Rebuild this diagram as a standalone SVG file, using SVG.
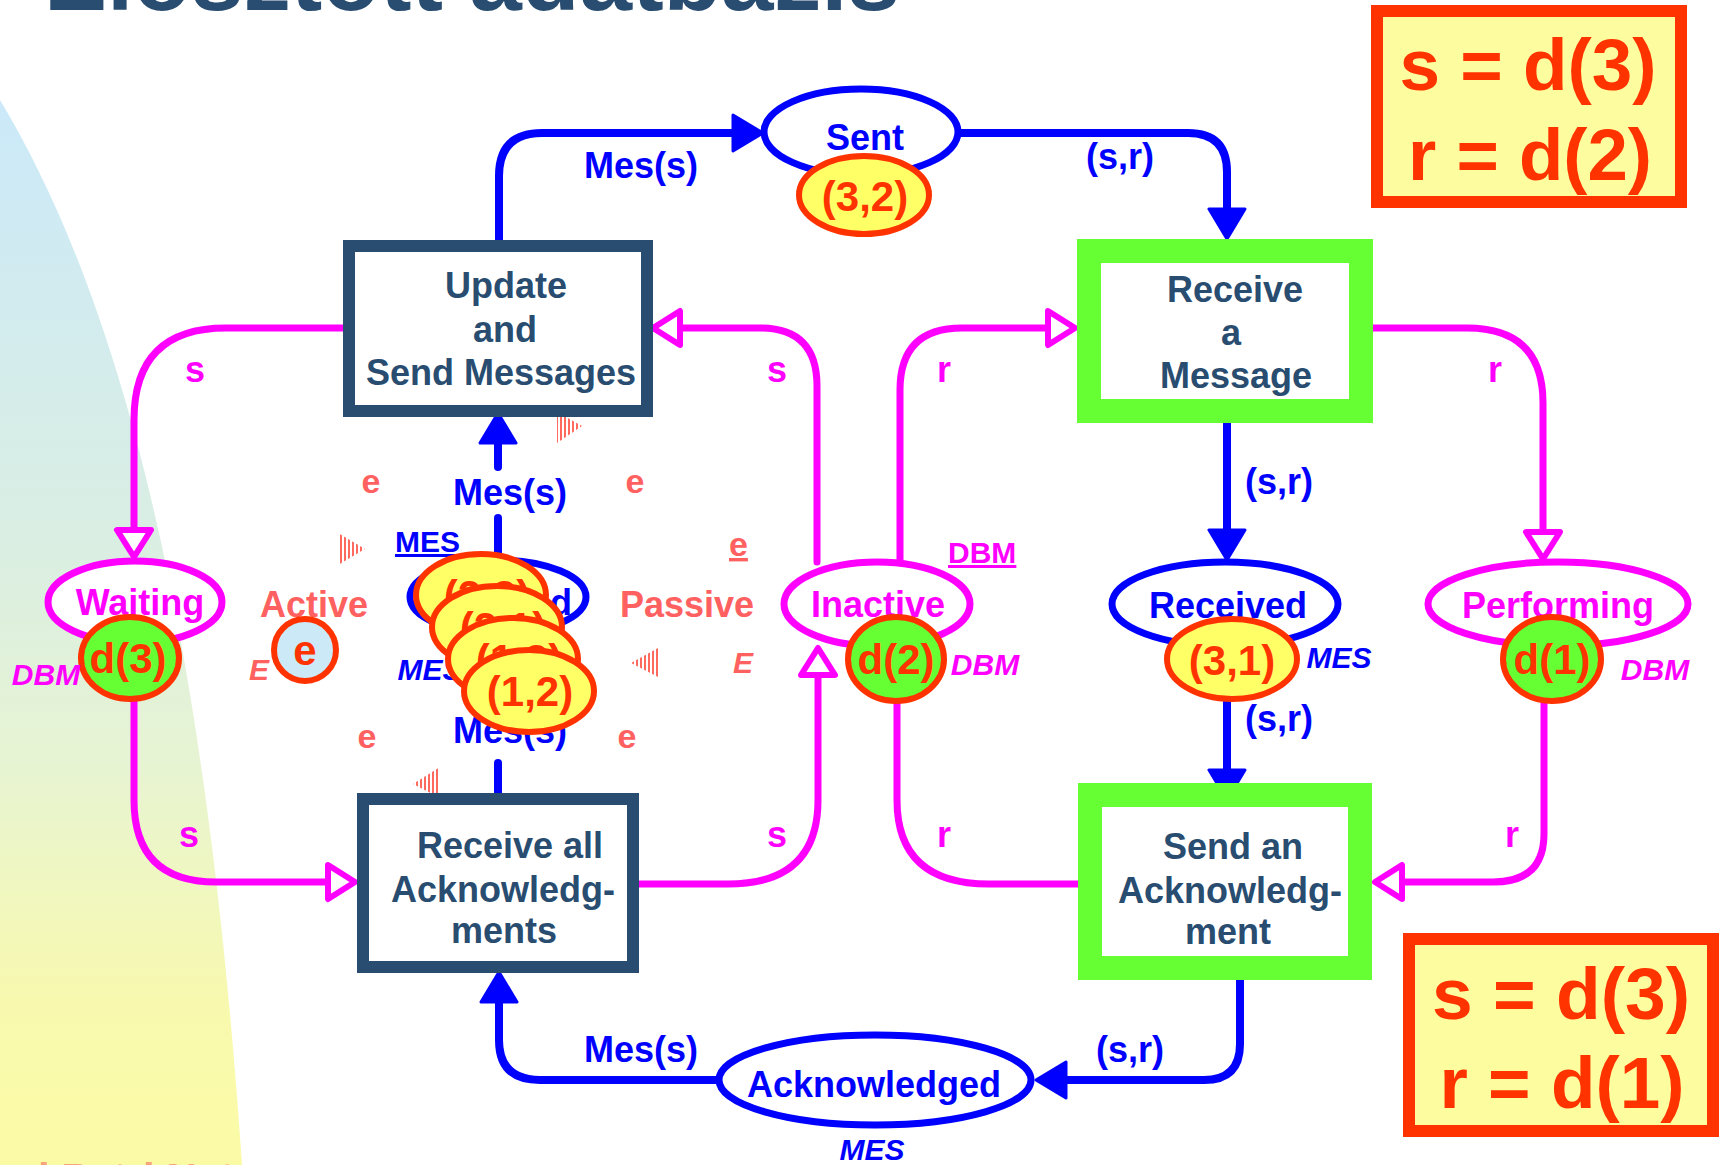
<svg xmlns="http://www.w3.org/2000/svg" width="1721" height="1165" viewBox="0 0 1721 1165">
  <defs>
    <linearGradient id="bgGrad" gradientUnits="userSpaceOnUse" x1="0" y1="100" x2="0" y2="1165">
      <stop offset="0" stop-color="#cbe9f9"/>
      <stop offset="0.42" stop-color="#daeee2"/>
      <stop offset="0.62" stop-color="#e7f4d3"/>
      <stop offset="0.85" stop-color="#f8f9ae"/>
      <stop offset="1" stop-color="#fbfba6"/>
    </linearGradient>
    <pattern id="hatch" patternUnits="userSpaceOnUse" width="4" height="4">
      <rect x="0" y="0" width="2" height="4" fill="#ff6a5e"/>
    </pattern>
    <!-- filled blue arrowhead; the path ends at the arrow base -->
    <marker id="arrowBlue" markerUnits="userSpaceOnUse" viewBox="0 0 34 40" markerWidth="34" markerHeight="40" refX="2" refY="20" orient="auto">
      <path d="M2,2 L32,20 L2,38 Z" fill="#0000ff" stroke="#0000ff" stroke-width="3" stroke-linejoin="round"/>
    </marker>
    <!-- hollow magenta arrowhead -->
    <marker id="arrowMag" markerUnits="userSpaceOnUse" viewBox="0 0 36 42" markerWidth="36" markerHeight="42" refX="4" refY="21" orient="auto">
      <path d="M4,4 L31,21 L4,38 Z" fill="#ffffff" stroke="#ff00ff" stroke-width="6" stroke-linejoin="round"/>
    </marker>
    <style>
      .t { font-family: "Liberation Sans", Arial, sans-serif; font-weight: bold; text-anchor: middle; }
      .it { font-style: italic; }
      .blue { fill: #0000ff; }
      .mag { fill: #ff00ff; }
      .sal { fill: #ff6060; }
      .dk { fill: #294d70; }
      .red { fill: #ff3300; }
      .lblue { fill: none; stroke: #0000ff; stroke-width: 8; stroke-linecap: round; stroke-linejoin: round; }
      .lmag { fill: none; stroke: #ff00ff; stroke-width: 7; stroke-linecap: round; stroke-linejoin: round; }
      .trans { fill: #ffffff; stroke: #294d70; stroke-width: 12; }
      .transG { fill: #ffffff; stroke: #66ff33; stroke-width: 24; }
      .pBlue { fill: #ffffff; stroke: #0000ff; stroke-width: 7; }
      .pMag { fill: #ffffff; stroke: #ff00ff; stroke-width: 7; }
      .tokY { fill: #ffff66; stroke: #ff3300; stroke-width: 6; }
      .tokG { fill: #66ff33; stroke: #ff3300; stroke-width: 6; }
      .hatch { fill: url(#hatch); }
      .eqbox { fill: #fdfd9f; stroke: #ff3300; stroke-width: 12; }
    </style>
  </defs>

  <rect x="0" y="0" width="1721" height="1165" fill="#ffffff"/>
  <!-- left backdrop swoosh -->
  <path d="M0,100 C120,300 205,620 242,1165 L0,1165 Z" fill="url(#bgGrad)"/>

  <!-- slide title and footer, cut by the frame -->
  <text x="472" y="10" class="t dk" font-size="94" textLength="856" lengthAdjust="spacingAndGlyphs">Elosztott adatbázis</text>
  <text x="38" y="1193" font-family="Liberation Sans, Arial, sans-serif" font-weight="bold" font-size="42" fill="#f7a47c">l Petri Net</text>

  <!-- connectors -->
  <g id="connectors">
    <!-- blue message arcs -->
    <path class="lblue" d="M499,240 V176 Q499,133 542,133 H733" marker-end="url(#arrowBlue)"/>
    <path class="lblue" d="M959,133 H1188 Q1227,133 1227,172 V209" marker-end="url(#arrowBlue)"/>
    <path class="lblue" d="M1227,423 V530" marker-end="url(#arrowBlue)"/>
    <path class="lblue" d="M1227,700 V770" marker-end="url(#arrowBlue)"/>
    <path class="lblue" d="M1240,980 V1044 Q1240,1080 1204,1080 H1066" marker-end="url(#arrowBlue)"/>
    <path class="lblue" d="M718,1080 H540 Q499,1080 499,1040 V1002" marker-end="url(#arrowBlue)"/>
    <path class="lblue" d="M498,560 V518"/>
    <path class="lblue" d="M498,467 V443" marker-end="url(#arrowBlue)"/>
    <path class="lblue" d="M498,800 V763"/>

    <!-- magenta database-manager arcs -->
    <path class="lmag" d="M343,328 H226 Q134,328 134,420 V530" marker-end="url(#arrowMag)"/>
    <path class="lmag" d="M134,700 V800 Q134,882 216,882 H328" marker-end="url(#arrowMag)"/>
    <path class="lmag" d="M817,562 V386 Q817,328 760,328 H680" marker-end="url(#arrowMag)"/>
    <path class="lmag" d="M639,884 H728 Q818,884 818,800 V675" marker-end="url(#arrowMag)"/>
    <path class="lmag" d="M900,560 V390 Q900,328 962,328 H1048" marker-end="url(#arrowMag)"/>
    <path class="lmag" d="M1078,884 H989 Q897,884 897,800 V702"/>
    <path class="lmag" d="M1373,328 H1467 Q1543,328 1543,403 V532" marker-end="url(#arrowMag)"/>
    <path class="lmag" d="M1544,702 V834 Q1544,882 1493,882 H1402" marker-end="url(#arrowMag)"/>

    <!-- arc inscriptions -->
    <text x="641" y="178" class="t blue" font-size="36">Mes(s)</text>
    <text x="1120" y="169" class="t blue" font-size="36">(s,r)</text>
    <text x="1279" y="494" class="t blue" font-size="36">(s,r)</text>
    <text x="1279" y="731" class="t blue" font-size="36">(s,r)</text>
    <text x="641" y="1062" class="t blue" font-size="36">Mes(s)</text>
    <text x="1130" y="1062" class="t blue" font-size="36">(s,r)</text>
    <text x="510" y="505" class="t blue" font-size="36">Mes(s)</text>
    <text x="510" y="743" class="t blue" font-size="36">Mes(s)</text>

    <text x="195" y="382" class="t mag" font-size="36">s</text>
    <text x="189" y="847" class="t mag" font-size="36">s</text>
    <text x="777" y="382" class="t mag" font-size="36">s</text>
    <text x="777" y="847" class="t mag" font-size="36">s</text>
    <text x="944" y="382" class="t mag" font-size="36">r</text>
    <text x="944" y="847" class="t mag" font-size="36">r</text>
    <text x="1495" y="382" class="t mag" font-size="36">r</text>
    <text x="1512" y="847" class="t mag" font-size="36">r</text>

    <!-- mutual exclusion arcs (e) -->
    <text x="371" y="493" class="t sal" font-size="34">e</text>
    <text x="635" y="493" class="t sal" font-size="34">e</text>
    <text x="367" y="748" class="t sal" font-size="34">e</text>
    <text x="627" y="748" class="t sal" font-size="34">e</text>
    <polygon class="hatch" points="557,412 582,426 557,443"/>
    <polygon class="hatch" points="338,533 365,549 338,565"/>
    <polygon class="hatch" points="658,648 631,663 658,677"/>
    <polygon class="hatch" points="440,767 413,784 440,798"/>
  </g>

  <!-- transitions -->
  <g id="update-send">
    <rect class="trans" x="349" y="246" width="298" height="165"/>
    <text class="t dk" font-size="36" x="506" y="298">Update</text>
    <text class="t dk" font-size="36" x="505" y="342">and</text>
    <text class="t dk" font-size="36" x="501" y="385">Send Messages</text>
  </g>
  <g id="receive-all">
    <rect class="trans" x="363" y="799" width="270" height="168"/>
    <text class="t dk" font-size="36" x="510" y="858">Receive all</text>
    <text class="t dk" font-size="36" x="503" y="902">Acknowledg-</text>
    <text class="t dk" font-size="36" x="504" y="943">ments</text>
  </g>
  <g id="receive-message">
    <rect class="transG" x="1089" y="251" width="272" height="160"/>
    <text class="t dk" font-size="36" x="1235" y="302">Receive</text>
    <text class="t dk" font-size="36" x="1231" y="345">a</text>
    <text class="t dk" font-size="36" x="1236" y="388">Message</text>
  </g>
  <g id="send-ack">
    <rect class="transG" x="1090" y="795" width="270" height="173"/>
    <text class="t dk" font-size="36" x="1233" y="859">Send an</text>
    <text class="t dk" font-size="36" x="1230" y="903">Acknowledg-</text>
    <text class="t dk" font-size="36" x="1228" y="944">ment</text>
  </g>

  <!-- places -->
  <g id="sent">
    <ellipse class="pBlue" cx="861" cy="132" rx="97" ry="43"/>
    <text class="t blue" font-size="36" x="865" y="150">Sent</text>
    <ellipse class="tokY" cx="864" cy="195" rx="65" ry="39"/>
    <text class="t red" font-size="42" x="865" y="211">(3,2)</text>
  </g>
  <g id="waiting">
    <ellipse class="pMag" cx="135" cy="602" rx="87" ry="41"/>
    <text class="t mag" font-size="36" x="140" y="615">Waiting</text>
    <ellipse class="tokG" cx="130" cy="658" rx="49" ry="41"/>
    <text class="t red" font-size="42" x="128" y="673">d(3)</text>
    <text class="t it mag" font-size="30" x="46" y="685">DBM</text>
  </g>
  <g id="active">
    <text class="t sal" font-size="36" x="314" y="617">Active</text>
    <circle cx="305" cy="650" r="31" fill="#cce9f8" stroke="#ff3300" stroke-width="6"/>
    <text class="t red" font-size="42" x="305" y="665">e</text>
    <text class="t it sal" font-size="30" x="259" y="680">E</text>
  </g>
  <g id="unused">
    <ellipse class="pBlue" cx="498" cy="597" rx="88" ry="37"/>
    <text class="t blue" font-size="36" x="506" y="615">Unused</text>
    <text x="395" y="552" font-family="Liberation Sans, Arial, sans-serif" font-weight="bold" font-size="30" fill="#0000ff" text-decoration="underline">MES</text>
    <text class="t it blue" font-size="30" x="430" y="680">MES</text>
    <ellipse class="tokY" cx="481" cy="595" rx="65" ry="41"/>
    <text class="t red" font-size="42" x="487" y="610">(2,3)</text>
    <ellipse class="tokY" cx="497" cy="627" rx="65" ry="41"/>
    <text class="t red" font-size="42" x="503" y="642">(2,1)</text>
    <ellipse class="tokY" cx="513" cy="659" rx="65" ry="41"/>
    <text class="t red" font-size="42" x="519" y="674">(1,3)</text>
    <ellipse class="tokY" cx="529" cy="691" rx="65" ry="41"/>
    <text class="t red" font-size="42" x="530" y="706">(1,2)</text>
  </g>
  <g id="passive">
    <text class="t sal" font-size="36" x="687" y="617">Passive</text>
    <text x="729" y="556" font-family="Liberation Sans, Arial, sans-serif" font-weight="bold" font-size="34" fill="#ff6060" text-decoration="underline">e</text>
    <text class="t it sal" font-size="30" x="743" y="673">E</text>
  </g>
  <g id="inactive">
    <ellipse class="pMag" cx="877" cy="604" rx="93" ry="42"/>
    <text class="t mag" font-size="36" x="878" y="617">Inactive</text>
    <text x="948" y="563" font-family="Liberation Sans, Arial, sans-serif" font-weight="bold" font-size="30" fill="#ff00ff" text-decoration="underline">DBM</text>
    <ellipse class="tokG" cx="896" cy="659" rx="48" ry="42"/>
    <text class="t red" font-size="42" x="896" y="674">d(2)</text>
    <text class="t it mag" font-size="30" x="985" y="675">DBM</text>
  </g>
  <g id="received">
    <ellipse class="pBlue" cx="1225" cy="604" rx="113" ry="42"/>
    <text class="t blue" font-size="36" x="1228" y="618">Received</text>
    <ellipse class="tokY" cx="1232" cy="659" rx="65" ry="40"/>
    <text class="t red" font-size="42" x="1232" y="675">(3,1)</text>
    <text class="t it blue" font-size="30" x="1339" y="668">MES</text>
  </g>
  <g id="performing">
    <ellipse class="pMag" cx="1558" cy="604" rx="130" ry="42"/>
    <text class="t mag" font-size="36" x="1558" y="618">Performing</text>
    <ellipse class="tokG" cx="1552" cy="659" rx="49" ry="42"/>
    <text class="t red" font-size="42" x="1552" y="674">d(1)</text>
    <text class="t it mag" font-size="30" x="1655" y="680">DBM</text>
  </g>
  <g id="acknowledged">
    <ellipse class="pBlue" cx="875" cy="1080" rx="156" ry="45"/>
    <text class="t blue" font-size="36" x="874" y="1097">Acknowledged</text>
    <text class="t it blue" font-size="30" x="872" y="1160">MES</text>
  </g>

  <!-- substitution boxes -->
  <g id="binding-top">
    <rect class="eqbox" x="1377" y="11" width="304" height="191"/>
    <text class="t red" font-size="72" x="1528" y="90" textLength="257" lengthAdjust="spacingAndGlyphs">s = d(3)</text>
    <text class="t red" font-size="72" x="1530" y="180" textLength="244" lengthAdjust="spacingAndGlyphs">r = d(2)</text>
  </g>
  <g id="binding-bottom">
    <rect class="eqbox" x="1409" y="939" width="304" height="192"/>
    <text class="t red" font-size="72" x="1561" y="1019" textLength="258" lengthAdjust="spacingAndGlyphs">s = d(3)</text>
    <text class="t red" font-size="72" x="1562" y="1108" textLength="245" lengthAdjust="spacingAndGlyphs">r = d(1)</text>
  </g>
</svg>
